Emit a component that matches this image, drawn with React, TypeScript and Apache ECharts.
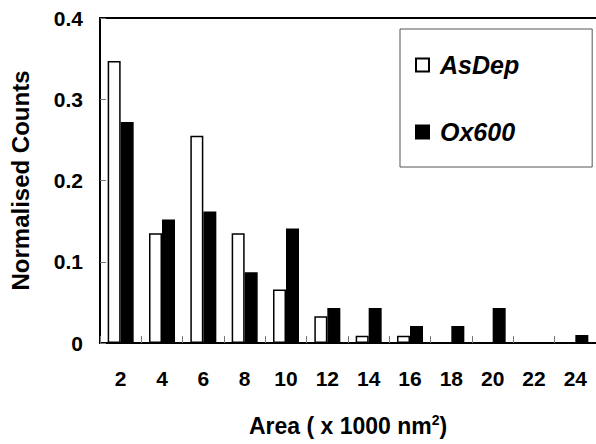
import React, { useEffect, useRef } from "react";
import * as echarts from "echarts";

const categories = ["2", "4", "6", "8", "10", "12", "14", "16", "18", "20", "22", "24"];
const asDep = [0.347, 0.135, 0.255, 0.135, 0.066, 0.033, 0.009, 0.009, 0, 0, 0, 0];
const ox600 = [0.272, 0.152, 0.162, 0.087, 0.141, 0.043, 0.043, 0.021, 0.021, 0.043, 0, 0.01];

const FONT = "'Liberation Sans', Arial, Helvetica, sans-serif";

export default function App() {
  const ref = useRef<HTMLDivElement>(null);
  useEffect(() => {
    if (!ref.current) return;
    const chart = echarts.init(ref.current, undefined, { renderer: "svg" });
    chart.setOption({
      animation: false,
      backgroundColor: "#fff",
      textStyle: { fontFamily: FONT },
      grid: { left: 97, top: 18, right: 0, bottom: 100 },
      legend: {
        orient: "vertical",
        left: 400,
        top: 29,
        icon: "rect",
        itemWidth: 13,
        itemHeight: 13,
        itemGap: 39,
        padding: [22, 73, 21, 15],
        borderColor: "#555",
        borderWidth: 1,
        textStyle: {
          fontFamily: FONT,
          fontSize: 25,
          fontWeight: "bold",
          fontStyle: "italic",
          color: "#000",
          lineHeight: 28,
          padding: [0, 0, 0, 6],
        },
        data: ["AsDep", "Ox600"],
      },
      xAxis: [
        {
          type: "category",
          data: categories,
          name: "Area ( x 1000 nm{sup|2})",
          nameLocation: "middle",
          nameGap: 70,
          nameTextStyle: {
            fontFamily: FONT,
            fontSize: 23,
            fontWeight: "bold",
            color: "#000",
            lineHeight: 26,
            rich: {
              sup: {
                fontFamily: FONT,
                fontSize: 14,
                fontWeight: "bold",
                color: "#000",
                verticalAlign: "top",
                lineHeight: 26,
              },
            },
          },
          axisLine: { show: true, lineStyle: { color: "#000", width: 2 } },
          axisTick: { show: true, inside: true, length: 7, lineStyle: { color: "#777", width: 1 } },
          axisLabel: {
            margin: 25,
            fontFamily: FONT,
            fontSize: 21,
            fontWeight: "bold",
            color: "#000",
          },
          splitLine: { show: false },
        },
        {
          type: "category",
          data: categories,
          position: "top",
          axisLine: { show: true, lineStyle: { color: "#000", width: 2 } },
          axisTick: { show: false },
          axisLabel: { show: false },
          splitLine: { show: false },
        },
      ],
      yAxis: {
        type: "value",
        min: 0,
        max: 0.4,
        interval: 0.1,
        name: "Normalised Counts",
        nameLocation: "middle",
        nameGap: 68,
        nameTextStyle: {
          fontFamily: FONT,
          fontSize: 24,
          fontWeight: "bold",
          color: "#000",
        },
        axisLine: { show: true, lineStyle: { color: "#000", width: 2 } },
        axisTick: { show: true, inside: true, length: 6, lineStyle: { color: "#777", width: 1 } },
        axisLabel: {
          margin: 17,
          fontFamily: FONT,
          fontSize: 21,
          fontWeight: "bold",
          color: "#000",
        },
        splitLine: { show: false },
      },
      series: [
        {
          name: "AsDep",
          type: "bar",
          data: asDep,
          barWidth: 13,
          barGap: "0%",
          itemStyle: { color: "#fff", borderColor: "#000", borderWidth: 1.5 },
        },
        {
          name: "Ox600",
          type: "bar",
          data: ox600,
          barWidth: 13,
          barGap: "0%",
          itemStyle: { color: "#000", borderColor: "#000", borderWidth: 1.5 },
        },
      ],
    });
    return () => chart.dispose();
  }, []);
  return (
    <div
      ref={ref}
      style={{ position: "fixed", left: 0, top: 0, width: 596, height: 444, background: "#fff" }}
    />
  );
}
